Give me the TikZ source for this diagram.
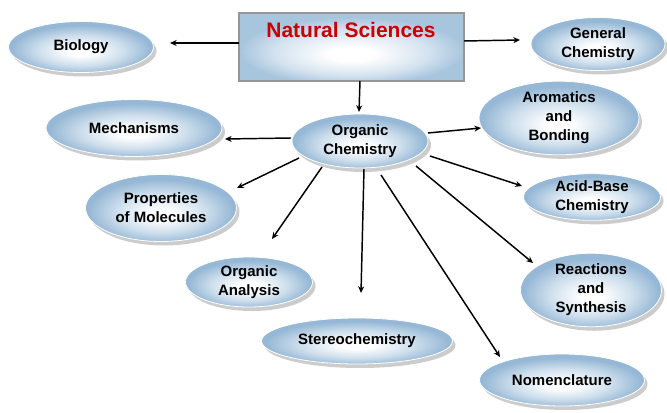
\documentclass[tikz,border=0pt]{standalone}
\usepackage{fontspec}
\setmainfont{Liberation Sans}
\usetikzlibrary{shapes.geometric,shadows,arrows.meta}
\newlength\pxl \setlength\pxl{0.75pt}
\definecolor{eb}{RGB}{150,184,214}
\definecolor{ebl}{RGB}{205,222,236}
\definecolor{rb}{RGB}{168,197,222}
\definecolor{rbl}{RGB}{212,227,239}
\definecolor{nsred}{RGB}{200,0,0}
\definecolor{rectborder}{RGB}{150,150,150}
\pgfdeclareradialshading{ellsh}{\pgfpoint{0bp}{-5bp}}{color(0bp)=(white); color(4bp)=(white); color(15bp)=(ebl); color(24bp)=(eb); color(50bp)=(eb)}
\pgfdeclareradialshading{rectsh}{\pgfpoint{0bp}{-6bp}}{color(0bp)=(white); color(5bp)=(white); color(17bp)=(rbl); color(25bp)=(rb); color(50bp)=(rb)}
\tikzset{
  ell/.style={ellipse, shade, shading=ellsh, draw=white, line width=0.8\pxl, inner sep=0pt,
    align=center, font=\bfseries\fontsize{11.25}{14.25}\selectfont,
    general shadow={fill=gray!40, shadow xshift=3\pxl, shadow yshift=-4\pxl}},
  natbox/.style={rectangle, shade, shading=rectsh, draw=rectborder, line width=2\pxl, inner sep=0pt},
  nattext/.style={text=nsred, font=\bfseries\fontsize{15.75}{18}\selectfont, inner sep=0pt},
  arr/.style={-{Stealth[length=5pt,width=4.5pt]}, line width=1.1pt, black}
}
\begin{document}
\begin{tikzpicture}[x=0.75pt, y=-0.75pt]
\useasboundingbox (0,0) rectangle (667,413);
\fill[white] (0,0) rectangle (667,413);

% central box
\node[natbox, minimum width=225\pxl, minimum height=68\pxl] (nat) at (351.5,47) {};
\node[nattext] (natT) at (351,30) {Natural Sciences};

% ellipses
\node[ell, minimum width=145\pxl, minimum height=51\pxl] (bio) at (81,47) {Biology};
\node[ell, minimum width=134\pxl, minimum height=53\pxl] (gen) at (598,44) {General\\Chemistry};
\node[ell, minimum width=176\pxl, minimum height=57\pxl] (mech) at (134,128) {Mechanisms};
\node[ell, minimum width=136\pxl, minimum height=54\pxl] (org) at (360,141) {Organic\\Chemistry};
\node[ell, minimum width=160\pxl, minimum height=61\pxl] (arom) at (559,118) {Aromatics\\and\\Bonding};
\node[ell, minimum width=137\pxl, minimum height=43\pxl] (acid) at (592,197) {Acid-Base\\Chemistry};
\node[ell, minimum width=141\pxl, minimum height=63\pxl] (react) at (591,290) {Reactions\\and\\Synthesis};
\node[ell, minimum width=191\pxl, minimum height=46\pxl] (stereo) at (357,341) {Stereochemistry};
\node[ell, minimum width=165\pxl, minimum height=52\pxl] (nom) at (562,380) {Nomenclature};
\node[ell, minimum width=151\pxl, minimum height=67\pxl] (prop) at (161,208) {Properties\\of Molecules};
\node[ell, minimum width=127\pxl, minimum height=50\pxl] (anal) at (249,282) {Organic\\Analysis};

% connector end points
\coordinate (s1) at (239,43);  \coordinate (e1) at (170,43);
\coordinate (s2) at (464,41);  \coordinate (e2) at (520,40);
\coordinate (s3) at (360,81);  \coordinate (e3) at (359,112);
\coordinate (s4) at (291,138); \coordinate (e4) at (225,139);
\coordinate (s5) at (299,158); \coordinate (e5) at (237,188);
\coordinate (s6) at (322,167); \coordinate (e6) at (272,239);
\coordinate (s7) at (364,169); \coordinate (e7) at (361,293);
\coordinate (s8) at (381,175); \coordinate (e8) at (500,357);
\coordinate (s9) at (416,166); \coordinate (e9) at (533,263);
\coordinate (s10) at (430,156); \coordinate (e10) at (522,186);
\coordinate (s11) at (428,133); \coordinate (e11) at (481,128);

\draw[arr] (s1) -- (e1);
\draw[arr] (s2) -- (e2);
\draw[arr] (s3) -- (e3);
\draw[arr] (s4) -- (e4);
\draw[arr] (s5) -- (e5);
\draw[arr] (s6) -- (e6);
\draw[arr] (s7) -- (e7);
\draw[arr] (s8) -- (e8);
\draw[arr] (s9) -- (e9);
\draw[arr] (s10) -- (e10);
\draw[arr] (s11) -- (e11);
\end{tikzpicture}
\end{document}
